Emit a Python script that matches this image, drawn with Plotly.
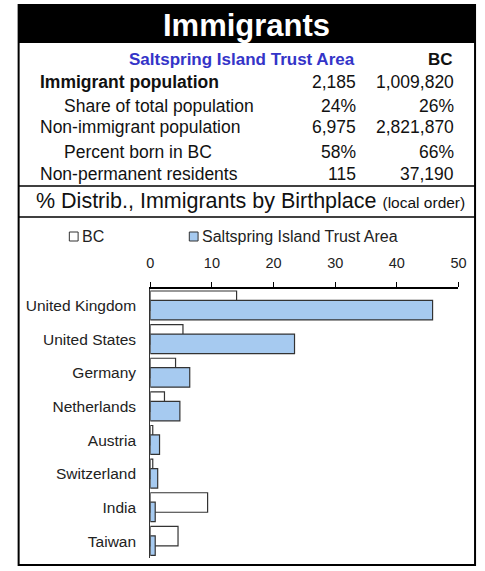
import plotly.graph_objects as go

W, H = 485, 571

# Summary table
area_name = "Saltspring Island Trust Area"
region_name = "BC"
row_labels = [
    "Immigrant population",
    "Share of total population",
    "Non-immigrant population",
    "Percent born in BC",
    "Non-permanent residents",
]
area_values = ["2,185", "24%", "6,975", "58%", "115"]
bc_values = ["1,009,820", "26%", "2,821,870", "66%", "37,190"]

# Birthplace distribution (% of immigrants)
countries = ["United Kingdom", "United States", "Germany", "Netherlands",
             "Austria", "Switzerland", "India", "Taiwan"]
bc_pct = [14.0, 5.3, 4.1, 2.3, 0.4, 0.4, 9.3, 4.5]
area_pct = [45.8, 23.4, 6.4, 4.8, 1.5, 1.2, 0.8, 0.8]
x_ticks = [0, 10, 20, 30, 40, 50]

FONT = "Liberation Sans, Arial, sans-serif"
BLUE_FILL = "#A6CAF0"
EDGE = "#333333"


def px(x):
    return x / W


def py(y):
    return 1 - y / H


fig = go.Figure()
fig.add_trace(go.Bar(
    y=countries, x=bc_pct, orientation="h", name=region_name,
    marker=dict(color="white", line=dict(color=EDGE, width=1.2)),
    offset=-0.44, width=0.58, showlegend=False, hoverinfo="x+y",
))
fig.add_trace(go.Bar(
    y=countries, x=area_pct, orientation="h", name=area_name,
    marker=dict(color=BLUE_FILL, line=dict(color=EDGE, width=1.2)),
    offset=-0.16, width=0.58, showlegend=False, hoverinfo="x+y",
))

shapes = []
annotations = []

# Frame, header band and separator rules
L, R, T, B = 15, 483, 5, 565
shapes.append(dict(type="rect", xref="paper", yref="paper",
                   x0=px(L), x1=px(R), y0=py(T), y1=py(43),
                   fillcolor="black", line=dict(width=0)))
for yy in (186, 217):
    shapes.append(dict(type="line", xref="paper", yref="paper",
                       x0=px(L), x1=px(R), y0=py(yy), y1=py(yy),
                       line=dict(color="black", width=1.5)))
shapes.append(dict(type="rect", xref="paper", yref="paper",
                   x0=px(L), x1=px(R), y0=py(T), y1=py(B),
                   line=dict(color="black", width=2)))

annotations.append(dict(text="<b>Immigrants</b>", x=px(249), y=py(25),
                        xref="paper", yref="paper", showarrow=False,
                        xanchor="center", yanchor="middle",
                        font=dict(family=FONT, size=31, color="white")))

# Table header
annotations.append(dict(text=f"<b>{area_name}</b>", x=px(362), y=py(60),
                        xref="paper", yref="paper", showarrow=False,
                        xanchor="right", yanchor="middle",
                        font=dict(family=FONT, size=17, color="#3434C8")))
annotations.append(dict(text=f"<b>{region_name}</b>", x=px(462), y=py(60),
                        xref="paper", yref="paper", showarrow=False,
                        xanchor="right", yanchor="middle",
                        font=dict(family=FONT, size=17, color="#111111")))

row_y = [82, 106, 127, 152, 174]
row_x = [35, 59, 35, 59, 35]
for i, lab in enumerate(row_labels):
    txt = f"<b>{lab}</b>" if i == 0 else lab
    annotations.append(dict(text=txt, x=px(row_x[i]), y=py(row_y[i]),
                            xref="paper", yref="paper", showarrow=False,
                            xanchor="left", yanchor="middle",
                            font=dict(family=FONT, size=17.5, color="#111111")))
    annotations.append(dict(text=area_values[i], x=px(363), y=py(row_y[i]),
                            xref="paper", yref="paper", showarrow=False,
                            xanchor="right", yanchor="middle",
                            font=dict(family=FONT, size=17.5, color="#111111")))
    annotations.append(dict(text=bc_values[i], x=px(463), y=py(row_y[i]),
                            xref="paper", yref="paper", showarrow=False,
                            xanchor="right", yanchor="middle",
                            font=dict(family=FONT, size=17.5, color="#111111")))

annotations.append(dict(
    text="% Distrib., Immigrants by Birthplace <span style='font-size:15.5px'>(local order)</span>",
    x=px(31), y=py(201), xref="paper", yref="paper", showarrow=False,
    xanchor="left", yanchor="middle",
    font=dict(family=FONT, size=21.5, color="#111111")))

# Legend keys
legend_items = [(region_name, "white", 67), (area_name, BLUE_FILL, 190)]
for name, fill, x0 in legend_items:
    shapes.append(dict(type="rect", xref="paper", yref="paper",
                       x0=px(x0), x1=px(x0 + 9), y0=py(241), y1=py(232),
                       fillcolor=fill, line=dict(color=EDGE, width=1)))
    annotations.append(dict(text=name, x=px(x0 + 11), y=py(236.5),
                            xref="paper", yref="paper", showarrow=False,
                            xanchor="left", yanchor="middle",
                            font=dict(family=FONT, size=16, color="#222222")))

fig.update_layout(
    width=W, height=H,
    margin=dict(l=0, r=0, t=0, b=0),
    paper_bgcolor="white", plot_bgcolor="white",
    barmode="overlay",
    shapes=shapes, annotations=annotations,
    xaxis=dict(domain=[px(150), px(466)], anchor="y", side="top",
               range=[0, 50], tickvals=x_ticks, ticks="outside", ticklen=5,
               tickcolor="black", tickwidth=1, showline=True,
               linecolor="black", linewidth=1.5, showgrid=False,
               zeroline=False, ticklabelstandoff=8,
               tickfont=dict(family=FONT, size=14.5, color="#222222")),
    yaxis=dict(domain=[py(558), py(289)], anchor="x", autorange="reversed",
               showline=True, linecolor=EDGE, linewidth=1.2, ticks="",
               showgrid=False, zeroline=False, ticklabelstandoff=10,
               tickfont=dict(family=FONT, size=15.5, color="#222222")),
    showlegend=False,
)

fig.write_html("out.html")
